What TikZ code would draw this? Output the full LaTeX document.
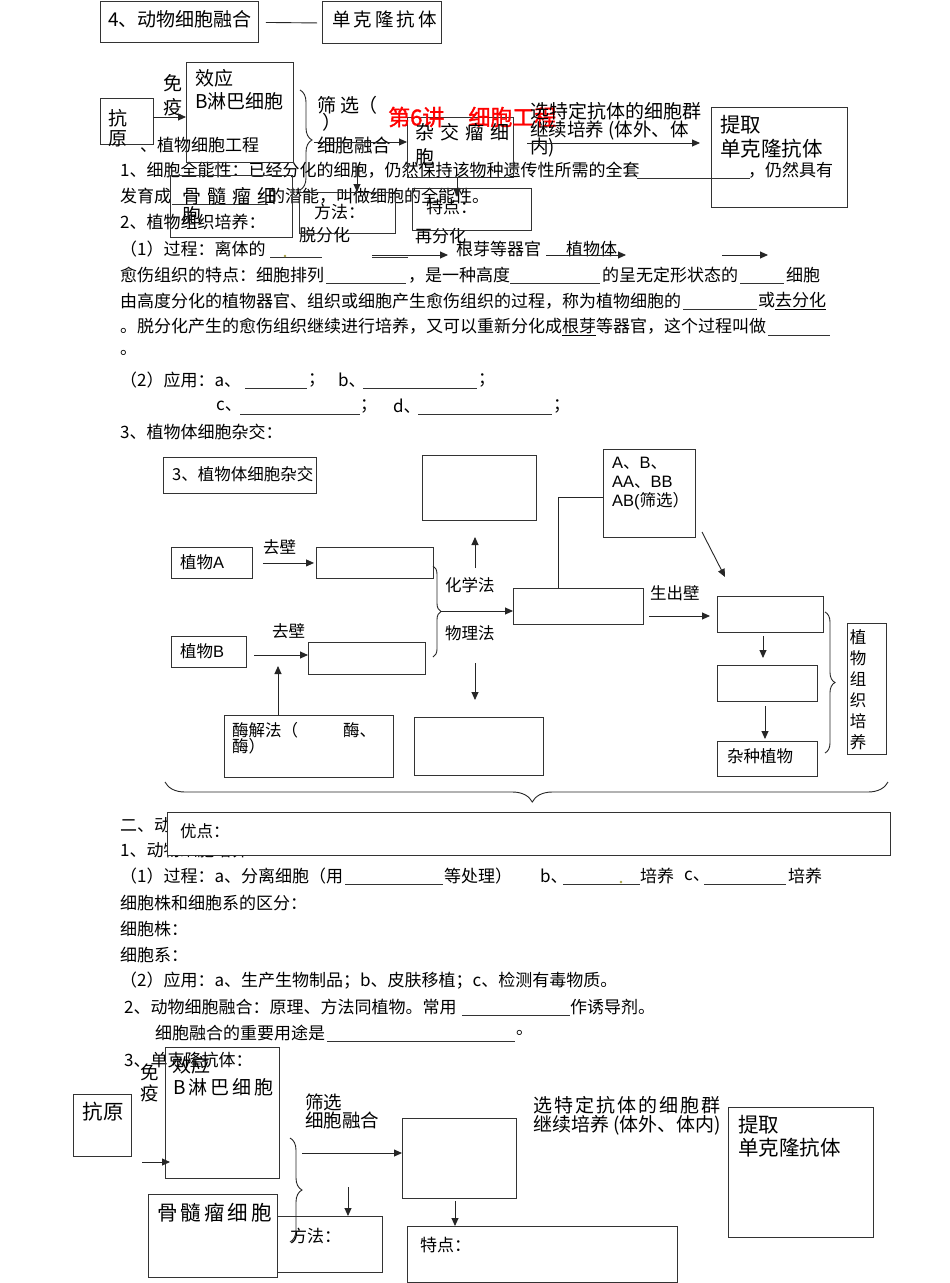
\documentclass[tikz,border=0pt]{standalone}
\usepackage{fontspec}
\setmainfont{Noto Sans CJK SC}
\newfontfamily\lat{Liberation Sans}
\newfontfamily\boldcjk{Noto Sans CJK SC}[FakeBold=1.5]
\usetikzlibrary{arrows.meta,decorations.pathreplacing}
\newcommand\bx[6][]{\node[box,#1,anchor=north west,minimum width={(#5-#3)*1pt},minimum height={(#6-#4)*1pt}] (#2) at (#3,#4) {};}
\newcommand\sq{\hspace{3pt}}
\begin{document}
\begin{tikzpicture}[x=1pt,y=-1pt,
  box/.style={draw=black!80,line width=0.9pt,inner sep=0pt},
  t/.style={anchor=west,inner sep=0pt,font=\fontsize{17}{20}\selectfont},
  t16/.style={t,font=\fontsize{16.5}{19}\selectfont},
  t18/.style={t,font=\fontsize{18.5}{22}\selectfont},
  t19/.style={t,font=\fontsize{19}{22}\selectfont},
  t20/.style={t,font=\fontsize{20.5}{24}\selectfont},
  arr/.style={-{Triangle[length=8pt,width=7pt]},line width=0.9pt,black!85},
  ln/.style={line width=0.9pt,black!85},
  bl/.style={line width=0.6pt,black!80},
  br/.style={decorate,decoration={brace,amplitude=#1},line width=0.9pt,black!85},
  dot/.style={fill=yellow!60!black}]
\useasboundingbox (0,0) rectangle (950,1283);
\fill[white] (0,0) rectangle (950,1283);

% ===== top header boxes
\bx{b4}{100}{1}{258}{42}
\node[t19] at (108,19) {4、动物细胞融合};
\bx{bdk}{322}{1}{441}{43}
\node[t18] at (332,19) {单\sq 克\sq 隆\sq 抗\sq 体};
\draw[ln] ([xshift=7pt,yshift=-0.5pt]b4.east) -- ([xshift=-5pt,yshift=-0.5pt]bdk.west);

% ===== body text, plant section
\node[t] at (140,145) {、植物细胞工程};
\node[t] at (120,170) {1、细胞全能性：已经分化的细胞，仍然保持该物种遗传性所需的全套};
\draw[bl] (637,178) -- (750,178);
\node[t] at (748,170) {，仍然具有};
\node[t] at (120,196) {发育成};
\draw[bl] (172,204) -- (268,204);
\node[t] at (268,196) {的潜能，叫做细胞的全能性。};
\node[t] at (120,222) {2、植物组织培养：};
\node[t] at (120,249) {（1）过程：离体的};
\draw[bl] (270,257) -- (322,257);
\fill[dot] (285,256) circle (1.3);
\node[t] at (299,235) {脱分化};
\node[t] at (415,236) {再分化};
\draw[bl] (372,257) -- (408,257);
\draw[arr] (372,255) -- (448,255);
\node[t] at (456,249) {根芽等器官};
\node[t] at (566,249) {植物体};
\draw[arr] (546,255) -- (626,255);
\draw[arr] (722,255) -- (768,255);
\node[t] at (120,275) {愈伤组织的特点：细胞排列};
\draw[bl] (326,283) -- (406,283);
\node[t] at (408,275) {，是一种高度};
\draw[bl] (510,283) -- (600,283);
\node[t] at (602,275) {的呈无定形状态的};
\draw[bl] (740,283) -- (784,283);
\node[t] at (786,275) {细胞};
\node[t] at (120,301) {由高度分化的植物器官、组织或细胞产生愈伤组织的过程，称为植物细胞的};
\draw[bl] (683,309) -- (757,309);
\node[t] at (758,301) {或\underline{去分化}};
\node[t] at (120,327) {。脱分化产生的愈伤组织继续进行培养，又可以重新分化成\underline{根芽}等器官，这个过程叫做};
\draw[bl] (768,335) -- (830,335);
\node[t] at (120,353) {。};
\node[t] at (120,380) {（2）应用：a、};
\draw[bl] (245,388) -- (307,388);
\node[t] at (308,380) {；};
\node[t] at (338,380) {b、};
\draw[bl] (363,388) -- (477,388);
\node[t] at (478,380) {；};
\node[t] at (216,406) {c、};
\draw[bl] (240,414) -- (360,414);
\node[t] at (360,406) {；};
\node[t] at (393,406) {d、};
\draw[bl] (418,414) -- (552,414);
\node[t] at (553,406) {；};
\node[t] at (120,432) {3、植物体细胞杂交：};

% ===== top monoclonal diagram (overlay)
\bx{kya}{100}{98}{153}{144}
\node[t19] at (108,118) {抗};
\node[t19] at (108,139) {原};
\node[t19] at (163,83) {免};
\node[t19] at (163,107) {疫};
\bx{xy}{186}{62}{293}{162}
\node[t19] at (195,78) {效应};
\node[t19] at (195,101) {B淋巴细胞};
\coordinate (ka) at (153,117);
\coordinate (kb) at (186,117);
\draw[arr] (ka) -- (kb);
\bx{gs}{170}{175}{292}{237}
\node[t19] at (182,196) {骨\hspace{6pt}髓\hspace{6pt}瘤\hspace{6pt}细};
\node[t19] at (182,215) {胞};
\draw[br=12] (300,90) -- (300,190);
\node[t19] at (317,105) {筛\hspace{4pt}选};
\node[t19] at (358,105) {（};
\node[t19] at (322,122) {）};
\node[t18] at (317,145) {细胞融合};
\bx{zj}{407}{117}{513}{177}
\coordinate (fa) at (314,142);
\draw[arr] (fa) -- (zj.west |- fa);
\node[t,font=\boldcjk\fontsize{22}{24}\selectfont,text=red] at (388,117) {第6讲\hspace{24pt}细胞工程};
\node[t19] at (415,132) {杂\hspace{6pt}交\hspace{6pt}瘤\hspace{6pt}细};
\node[t19] at (415,157) {胞};
\bx{ff}{299}{192}{395}{233}
\node[t] at (314,212) {方法：};
\bx{td}{412}{188}{531}{230}
\node[t] at (426,207) {特点：};
\coordinate (d1) at (357,168);
\draw[arr] (d1) -- (ff.north -| d1);
\coordinate (d2) at (457,197);
\draw[arr] (zj.south -| d2) -- (d2);
\node[t19] at (530,111) {选特定抗体的细胞群};
\node[t18] at (530,130) {继续培养 (体外、体};
\node[t18] at (530,148) {内)};
\bx{tq}{711}{107}{847}{207}
\coordinate (xa) at (527,143);
\coordinate (xb) at (700,143);
\draw[arr] (xa) -- (xb);
\node[t20] at (720,125) {提取};
\node[t20] at (720,149) {单克隆抗体};

% ===== plant somatic hybridization diagram
\bx{bt3}{163}{457}{316}{493}
\node[t16] at (172,474) {3、植物体细胞杂交};
\bx{btop}{422}{455}{536}{520}
\bx{bab}{603}{449}{695}{537}
\node[t16] at (612,463) {{\lat A}、{\lat B}、};
\node[t16] at (612,482) {{\lat AA}、{\lat BB}};
\node[t16] at (612,501) {{\lat AB(}筛选）};
\bx{pa}{171}{547}{252}{578}
\node[t16] at (180,562) {植物{\lat A}};
\node[t16] at (263,547) {去壁};
\bx{pa2}{316}{547}{433}{578}
\draw[arr] ([xshift=10pt]pa.east) -- ([xshift=-2pt]pa2.west);
\draw[br=8] (433,566) -- (433,657);
\node[t16] at (445,585) {化学法};
\node[t16] at (445,633) {物理法};
\bx{fu}{513}{588}{643}{624}
\coordinate (ft) at (441,611);
\draw[arr] (ft) -- (fu.west |- ft);
\coordinate (u1) at (475,568);
\coordinate (u2) at (475,537);
\draw[arr] (u1) -- (u2);
\coordinate (v1) at (475,663);
\coordinate (v2) at (475,700);
\draw[arr] (v1) -- (v2);
\bx{pb}{171}{636}{246}{667}
\node[t16] at (180,651) {植物{\lat B}};
\node[t16] at (272,631) {去壁};
\bx{pb2}{308}{642}{425}{674}
\coordinate (pbs) at (254,655);
\draw[arr] (pbs) -- (pb2.west |- pbs);
\bx{mj}{224}{715}{393}{777}
\node[t16] at (232,730) {酶解法（\hspace{45pt}酶、};
\node[t16] at (232,746) {酶）};
\coordinate (mu) at (278,666);
\draw[arr] (mj.north -| mu) -- (mu);
\bx{bbot}{414}{717}{543}{775}
\coordinate (c1) at (558,497);
\draw[ln] (fu.north -| c1) -- (c1) -- (bab.west |- c1);
\coordinate (g1) at (702,532);
\coordinate (g2) at (725,577);
\draw[arr] (g1) -- (g2);
\node[t16] at (650,593) {生出壁};
\bx{r1}{717}{596}{823}{632}
\coordinate (s1) at (649,616);
\draw[arr] (s1) -- ([xshift=-7pt]r1.west |- s1);
\bx{r2}{717}{665}{817}{701}
\coordinate (s2) at (763,636);
\coordinate (s3) at (763,658);
\draw[arr] (s2) -- (s3);
\bx{r3}{717}{741}{817}{776}
\node[t16] at (727,756) {杂种植物};
\coordinate (s4) at (765,706);
\coordinate (s5) at (765,739);
\draw[arr] (s4) -- (s5);
\draw[br=10] (825,612) -- (825,753);
\bx{zw}{847}{623}{886}{754}
\node[inner sep=0pt,align=center,font=\fontsize{16.5}{21}\selectfont] at (858,689.5) {植\\物\\组\\织\\培\\养};
\draw[br=20,decoration={mirror,aspect=0.508}] (165,782) -- (888,782);

% ===== animal section text
\node[t] at (120,825) {二、动物细胞工程};
\node[t] at (120,850) {1、动物细胞培养};
\bx[fill=white]{yd}{167}{812}{890}{855}
\node[t16] at (180,831) {优点：};
\node[t] at (120,876) {（1）过程：a、分离细胞（用};
\draw[bl] (345,884) -- (443,884);
\node[t] at (444,876) {等处理）};
\node[t] at (540,876) {b、};
\draw[bl] (563,884) -- (640,884);
\fill[dot] (621,882) circle (1.3);
\node[t] at (640,876) {培养};
\node[t] at (684,876) {c、};
\draw[bl] (704,884) -- (786,884);
\node[t] at (788,876) {培养};
\node[t] at (120,903) {细胞株和细胞系的区分：};
\node[t] at (120,929) {细胞株：};
\node[t] at (120,955) {细胞系：};
\node[t] at (120,981) {（2）应用：a、生产生物制品；b、皮肤移植；c、检测有毒物质。};
\node[t] at (124,1007) {2、动物细胞融合：原理、方法同植物。常用};
\draw[bl] (462,1015) -- (570,1015);
\node[t] at (570,1007) {作诱导剂。};
\node[t] at (155,1033) {细胞融合的重要用途是};
\draw[bl] (327,1041) -- (515,1041);
\node[t] at (516,1033) {。};
\node[t] at (124,1060) {3、单克隆抗体：};

% ===== bottom monoclonal diagram
\bx{kyb}{73}{1094}{131}{1156}
\node[t20] at (82,1112) {抗\hspace{1pt}原};
\node[t18] at (140,1072) {免};
\node[t18] at (140,1093) {疫};
\bx{xyb}{165}{1047}{279}{1178}
\node[t19] at (172,1065) {效应};
\node[t19] at (173,1087) {B\hspace{3pt}淋\hspace{3pt}巴\hspace{3pt}细\hspace{3pt}胞};
\coordinate (ia) at (142,1162);
\draw[arr] (ia) -- ([xshift=5pt]xyb.west |- ia);
\bx{gsb}{148}{1194}{277}{1277}
\node[t20] at (157,1213) {骨\hspace{3pt}髓\hspace{3pt}瘤\hspace{3pt}细\hspace{3pt}胞};
\bx{ffb}{277}{1216}{382}{1272}
\node[t] at (290,1236) {方法：};
\draw[br=12] (290,1138) -- (290,1242);
\node[t18] at (305,1102) {筛选};
\node[t18] at (305,1120) {细胞融合};
\bx{zjb}{402}{1118}{516}{1198}
\coordinate (fb) at (302,1153);
\draw[arr] (fb) -- (zjb.west |- fb);
\coordinate (e1) at (348,1187);
\draw[arr] (e1) -- (ffb.north -| e1);
\bx{tdb}{407}{1226}{677}{1282}
\node[t] at (420,1245) {特点：};
\coordinate (e2) at (455,1201);
\draw[arr] (e2) -- (tdb.north -| e2);
\node[t19] at (533,1105) {选\hspace{2pt}特\hspace{2pt}定\hspace{2pt}抗\hspace{2pt}体\hspace{2pt}的\hspace{2pt}细\hspace{2pt}胞\hspace{2pt}群};
\node[t19] at (533,1125) {继续培养 (体外、体内)};
\bx{tqb}{728}{1107}{873}{1237}
\node[t20] at (738,1125) {提取};
\node[t20] at (738,1148) {单克隆抗体};
\end{tikzpicture}
\end{document}
